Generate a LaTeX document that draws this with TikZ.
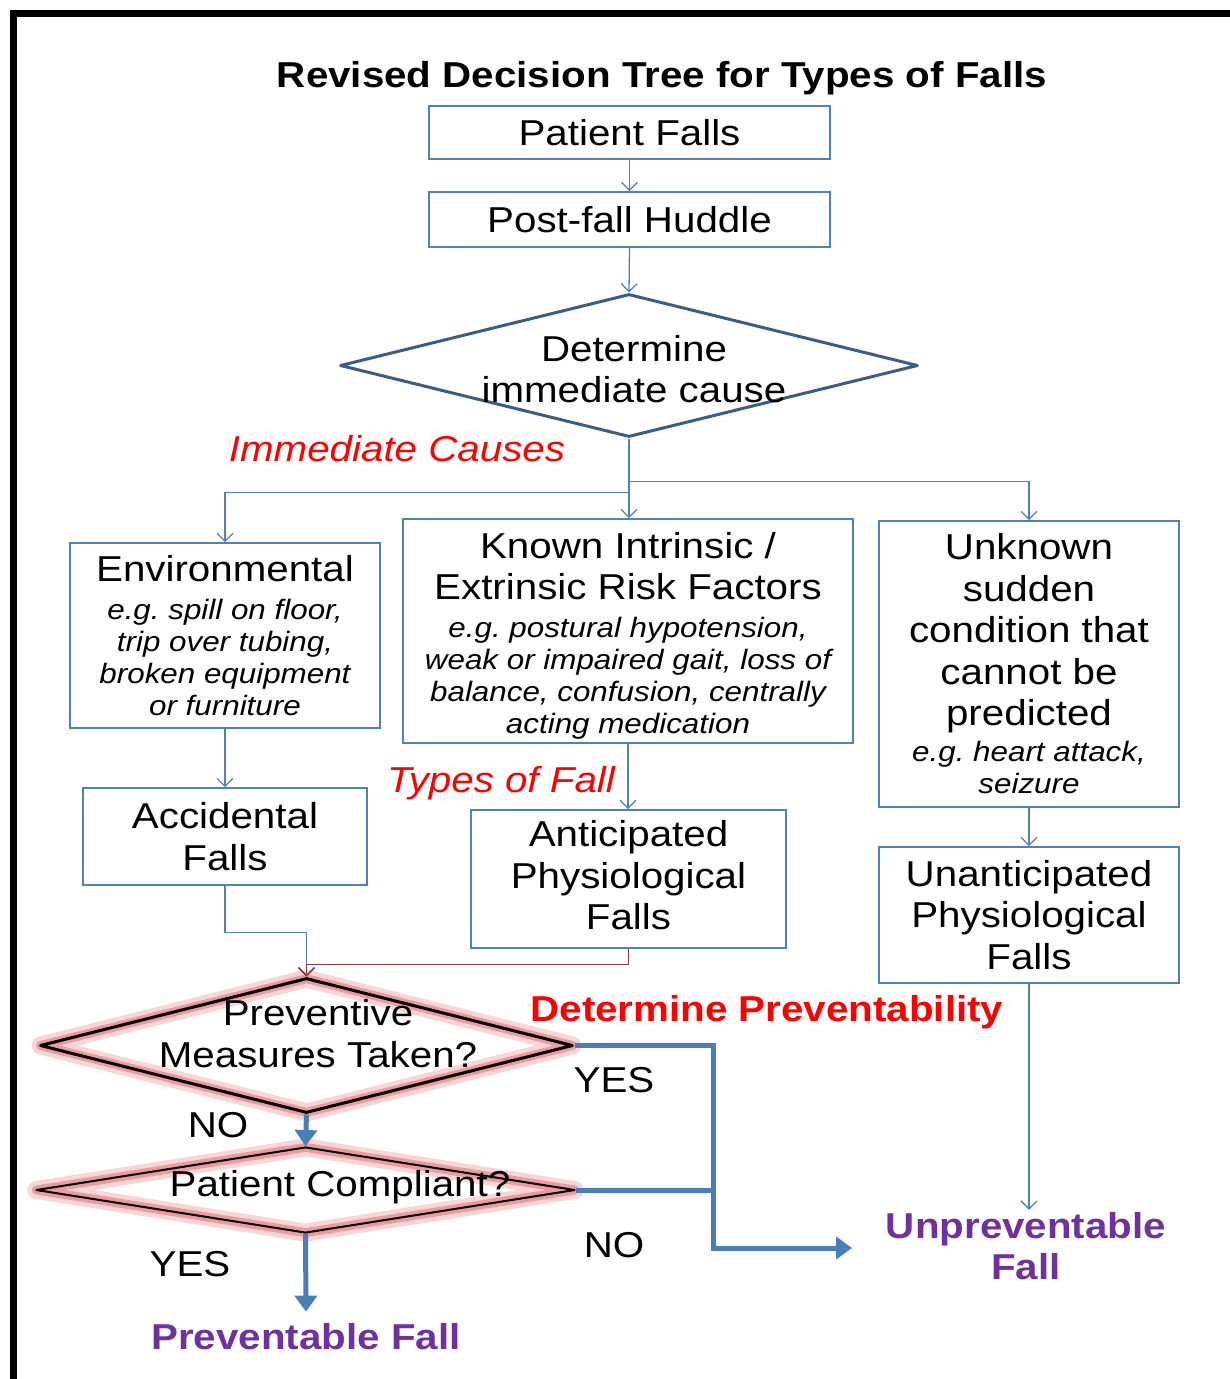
\documentclass[tikz,border=0pt]{standalone}
\usepackage{fontspec}
\setmainfont{Liberation Sans}[FakeStretch=1.12]
\usetikzlibrary{shapes.geometric,arrows.meta,positioning,calc}
\definecolor{BoxBlue}{HTML}{4F81BD}
\definecolor{CauseBlue}{HTML}{385D8A}
\definecolor{FlowBlue}{HTML}{4A7EBB}
\definecolor{LinkRed}{HTML}{8C3A3A}
\definecolor{CauseRed}{HTML}{FF0000}
\definecolor{FallPurple}{HTML}{7030A0}
\definecolor{GlowPink}{HTML}{EC9C9C}
\definecolor{GlowSoft}{HTML}{F8D6D6}
\newcommand{\bigf}{\fontsize{36}{41.5}\selectfont}
\newcommand{\smallf}{\fontsize{28}{32}\selectfont\itshape}
\frenchspacing

\begin{document}
\begin{tikzpicture}[x=1pt,y=-1pt,
  box/.style={draw=BoxBlue,line width=1.6pt,fill=white,align=center,inner sep=0pt,font=\bigf},
  decision/.style={diamond,inner sep=0pt,line join=round},
  glow/.style={preaction={draw=GlowSoft,line width=18pt},preaction={draw=GlowPink,line width=9pt}},
  link/.style={draw=BoxBlue,line width=1.3pt,-{Straight Barb[length=8pt,width=16pt,line width=1.3pt]}},
  flow/.style={draw=FlowBlue,line width=5pt,-{Triangle[length=16pt,width=22pt]}},
  note/.style={font=\bigf,inner sep=2pt},
  outcome/.style={font=\bigf\bfseries,text=FallPurple,align=center,inner sep=2pt}]
  \useasboundingbox (0,0) rectangle (1230,1379);
  \draw[line width=7.5pt] (13.5,1379) -- (13.5,13.5) -- (1230,13.5);

  % top of the tree
  \node[font=\bigf\bfseries] (title) at (662,78) {Revised Decision Tree for Types of Falls};
  \node[box,minimum width=401pt,minimum height=53pt] (pfalls) at (629.5,132.5) {Patient Falls};
  \node[box,minimum width=401pt,minimum height=55pt] (huddle) at (629.5,219.5) {Post-fall Huddle};
  \node[decision,draw=CauseBlue,line width=3pt,minimum width=578pt,minimum height=143pt] (cause) at (629,365.5) {};
  \node[font=\bigf,align=center] (causetxt) at (634,369) {Determine\\immediate cause};
  \node[note,text=CauseRed,font=\bigf\itshape] (imm) at (397,449) {Immediate Causes};

  % immediate causes
  \node[box,minimum width=310pt,minimum height=185pt] (env) at (225,635.5)
    {Environmental\\[-3.5pt]{\smallf e.g. spill on floor,}\\[-9.5pt]{\smallf trip over tubing,}\\[-9.5pt]{\smallf broken equipment}\\[-9.5pt]{\smallf or furniture}};
  \node[box,minimum width=450pt,minimum height=224pt] (known) at (628,631)
    {\rule{0pt}{36pt}Known Intrinsic /\\Extrinsic Risk Factors\\[-3.5pt]{\smallf e.g. postural hypotension,}\\[-9.5pt]{\smallf weak or impaired gait, loss of}\\[-9.5pt]{\smallf balance, confusion, centrally}\\[-9.5pt]{\smallf acting medication}};
  \node[box,minimum width=300pt,minimum height=286pt] (unk) at (1029,664)
    {Unknown\\sudden\\condition that\\cannot be\\predicted\\[-5.5pt]{\smallf e.g. heart attack,}\\[-9.5pt]{\smallf seizure}};

  % types of fall
  \node[note,text=CauseRed,font=\bigf\itshape] (types) at (501,783) {Types of Fall};
  \node[box,minimum width=284pt,minimum height=97pt] (acc) at (225,836.5) {Accidental\\Falls};
  \node[box,minimum width=315pt,minimum height=138pt] (ant) at (628.5,879) {Anticipated\\Physiological\\Falls\rule[-8pt]{0pt}{8pt}};
  \node[box,minimum width=300pt,minimum height=136pt] (unant) at (1029,915) {Unanticipated\\Physiological\\Falls};

  % preventability
  \node[decision,draw=black,line width=3pt,glow,minimum width=533pt,minimum height=135pt] (prev) at (306.5,1045.5) {};
  \node[font=\bigf,align=center] (prevtxt) at (318,1033.5) {Preventive\\Measures Taken?};
  \node[decision,draw=black,line width=2pt,glow,minimum width=539pt,minimum height=86pt] (comp) at (305.5,1190) {};
  \node[font=\bigf] (comptxt) at (340,1187) {Patient Compliant?};
  \node[note,text=CauseRed,font=\bigf\bfseries] (detprev) at (767,1012) {Determine Preventability};
  \node[note] (no1) at (218,1125) {NO};
  \node[note] (yes1) at (614,1080) {YES};
  \node[note] (yes2) at (190,1264) {YES};
  \node[note] (no2) at (614,1245) {NO};
  \node[outcome] (pfall) at (306,1337) {Preventable Fall};
  \node[outcome] (unprev) at (1026,1246) {Unpreventable\\Fall};
  \coordinate (bend) at (713,1248);
  \coordinate (yesend) at (852,1248);

  % connectors
  \draw[link] (pfalls) -- (huddle);
  \draw[link] (huddle.south) -- (cause.north);
  \draw[link] (cause.south) -- (cause.south |- known.north);
  \draw[link] (cause.south) -- ++(0,54) -| (env.north);
  \draw[link] (cause.south) -- ++(0,43) -| (unk.north);
  \draw[link] (env) -- (acc);
  \draw[link] (known.south) -- (known.south |- ant.north);
  \draw[link] (unk) -- (unant);
  \draw[link] (acc.south) -- ++(0,47) -| (prev.north);
  \draw[link,draw=LinkRed] (ant.south) -- ++(0,16) -| (prev.north);
  \draw[link] (unant.south) -- (unant.south |- unprev.north);
  \draw[flow] (prev.south) -- (comp.north);
  \draw[flow] (comp.south) -- ([yshift=10pt]pfall.north);
  \draw[flow] (prev.east) -| (bend) -- (yesend);
  \draw[flow,-] (comp.east) -- (comp.east -| bend);
\end{tikzpicture}
\end{document}
